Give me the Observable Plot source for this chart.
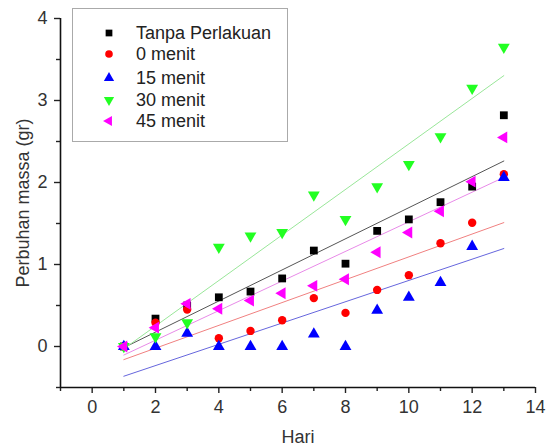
<!DOCTYPE html>
<html>
<head>
<meta charset="utf-8">
<script src="https://cdn.jsdelivr.net/npm/d3@7"></script>
<script src="https://cdn.jsdelivr.net/npm/@observablehq/plot@0.6"></script>
<style>
  body { margin: 0; background: #fff; font-family: "Liberation Sans", Arial, sans-serif; }
  #wrap { position: relative; width: 546px; height: 445px; }
  #legend { position: absolute; left: 0; top: 0; }
</style>
</head>
<body>
<div id="wrap"></div>
<script>
// ---- data ----
const days = [1, 2, 3, 4, 5, 6, 7, 8, 9, 10, 11, 12, 13];
const seriesNames = ["Tanpa Perlakuan", "0 menit", "15 menit", "30 menit", "45 menit"];
const tanpaPerlakuan = [0, 0.34, 0.5, 0.6, 0.67, 0.83, 1.17, 1.01, 1.41, 1.55, 1.76, 1.95, 2.82];
const menit0  = [0, 0.29, 0.45, 0.10, 0.19, 0.32, 0.59, 0.41, 0.69, 0.87, 1.26, 1.51, 2.10];
const menit15 = [0, 0.00, 0.16, 0.00, 0.00, 0.00, 0.15, 0.00, 0.44, 0.60, 0.78, 1.22, 2.06];
const menit30 = [0, 0.12, 0.29, 1.21, 1.35, 1.39, 1.85, 1.55, 1.95, 2.22, 2.56, 3.15, 3.65];
const menit45 = [0, 0.23, 0.52, 0.46, 0.56, 0.65, 0.74, 0.82, 1.15, 1.39, 1.65, 2.01, 2.55];
const xMajorTicks = [0, 2, 4, 6, 8, 10, 12, 14];
const xMinorTicks = [-1, 1, 3, 5, 7, 9, 11, 13];
const yMajorTicks = [0, 1, 2, 3, 4];
const yMinorTicks = [-0.5, 0.5, 1.5, 2.5, 3.5];

// ---- symbols ----
const s3 = Math.sqrt(3);
const triDown = { draw(ctx, size) { const y = -Math.sqrt(size / (s3 * 3)); ctx.moveTo(0, -y * 2); ctx.lineTo(-s3 * y, y); ctx.lineTo(s3 * y, y); ctx.closePath(); } };
const triLeft = { draw(ctx, size) { const y = -Math.sqrt(size / (s3 * 3)); ctx.moveTo(y * 2, 0); ctx.lineTo(-y, -s3 * y); ctx.lineTo(-y, s3 * y); ctx.closePath(); } };

const seriesValues = [tanpaPerlakuan, menit0, menit15, menit30, menit45];
const colors = ["#000000", "#ff0000", "#0000ff", "#22ff22", "#ff00ff"];
const lineColors = ["#555555", "#f08080", "#6666dd", "#99e699", "#e88ae8"];
const symbols = ["square", "circle", "triangle", triDown, triLeft];
const radii = [4.4, 4.2, 4.4, 4.4, 4.4];

const tables = seriesValues.map(vals => days.map((d, i) => ({ x: d, y: vals[i] })));

const marks = [];
tables.forEach((t, k) => {
  marks.push(Plot.linearRegressionY(t, { x: "x", y: "y", stroke: lineColors[k], strokeWidth: 1, ci: 0 }));
});
tables.forEach((t, k) => {
  marks.push(Plot.dot(t, { x: "x", y: "y", fill: colors[k], stroke: "none", symbol: symbols[k], r: radii[k] }));
});
marks.push(
  Plot.axisX(xMajorTicks, { tickSize: 6, tickPadding: 7, fontSize: 13, color: "#333", stroke: "#222", strokeWidth: 1.4, tickFormat: d => String(d), label: "Hari", labelAnchor: "center", labelArrow: "none", labelOffset: 55 }),
  Plot.axisX(xMinorTicks, { tickSize: 4, text: null, label: null, stroke: "#222", strokeWidth: 1.4 }),
  Plot.axisY(yMajorTicks, { tickSize: 6, tickPadding: 7, fontSize: 13.5, color: "#333", stroke: "#222", strokeWidth: 1.4, tickFormat: d => String(d), label: "Perbuhan massa (gr)", labelAnchor: "center", labelArrow: "none", labelOffset: 44 }),
  Plot.axisY(yMinorTicks, { tickSize: 4, text: null, label: null, stroke: "#222", strokeWidth: 1.4 }),
  Plot.ruleY([-0.5], { stroke: "#111", strokeWidth: 1.6 }),
  Plot.ruleX([-1], { stroke: "#111", strokeWidth: 1.6 })
);

const chart = Plot.plot({
  width: 546,
  height: 445,
  marginLeft: 60,
  marginRight: 11,
  marginTop: 18,
  marginBottom: 58,
  style: { fontFamily: "Liberation Sans, Arial, sans-serif", fontSize: "14px", color: "#333", background: "#fff" },
  x: { domain: [-1, 14] },
  y: { domain: [-0.5, 4] },
  marks
});
document.getElementById("wrap").appendChild(chart);

d3.select(chart).selectAll("[aria-label$='label'] text").style("font-size", "18px").attr("fill", "#333");

// ---- legend overlay ----
const lg = d3.select("#wrap").append("svg").attr("id", "legend").attr("width", 546).attr("height", 160);
lg.append("rect").attr("x", 72.5).attr("y", 8.5).attr("width", 215).attr("height", 133)
  .attr("fill", "#fff").attr("stroke", "#aaa").attr("stroke-width", 1);
const rowY = [33, 54, 78, 100, 121];
const d3types = { square: d3.symbolSquare, circle: d3.symbolCircle, triangle: d3.symbolTriangle };
seriesNames.forEach((name, k) => {
  const sym = d3.symbol().type(typeof symbols[k] === "string" ? d3types[symbols[k]] : symbols[k]).size(Math.PI * 3.8 * 3.8);
  lg.append("path").attr("d", sym()).attr("transform", `translate(109,${rowY[k]})`).attr("fill", colors[k]);
  lg.append("text").attr("x", 136).attr("y", rowY[k]).attr("dy", "0.35em")
    .attr("font-size", 18).attr("fill", "#222").attr("font-family", "Liberation Sans, Arial, sans-serif").text(name);
});
</script>
</body>
</html>
